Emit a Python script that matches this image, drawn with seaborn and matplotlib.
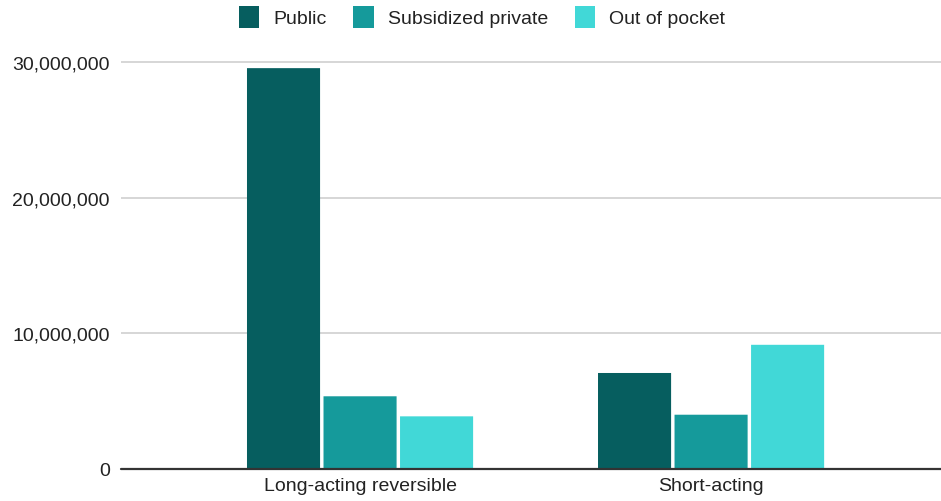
import matplotlib
matplotlib.use("Agg")
import matplotlib.pyplot as plt
import seaborn as sns
import pandas as pd
from matplotlib.patches import FancyBboxPatch, Patch
from matplotlib.ticker import FuncFormatter

categories = ["Long-acting reversible", "Short-acting"]
series = ["Public", "Subsidized private", "Out of pocket"]
public = [29.55e6, 7.05e6]
subsidized = [5.33e6, 3.97e6]
out_of_pocket = [3.85e6, 9.13e6]
colors = ["#065e5f", "#159a9b", "#41d8d7"]

rows = []
for s, vals in zip(series, [public, subsidized, out_of_pocket]):
    for c, v in zip(categories, vals):
        rows.append({"category": c, "series": s, "value": v})
df = pd.DataFrame(rows)

sns.set_theme(style="white")
plt.rcParams["font.family"] = ["Liberation Sans", "DejaVu Sans"]

fig = plt.figure(figsize=(9.41, 5.02), dpi=100)
W, H = 941, 502
ax = fig.add_axes([121 / W, (H - 469.5) / H, (941 - 121) / W, 420 / H])

sns.barplot(data=df, x="category", y="value", hue="series", hue_order=series,
            palette=colors, width=0.654, gap=0.045, ax=ax, legend=False,
            saturation=1)

ax.set_ylim(0, 31e6)
ax.set_xlim(-0.681, 1.655)

# rounded bar tops
px_x = 351.5  # pixels per x unit
px_y = 135.5 / 1e7  # pixels per y unit
r = 3 / px_x
aspect = (1 / px_y) / px_x
for p in list(ax.patches):
    x0, w, h = p.get_x(), p.get_width(), p.get_height()
    fc = p.get_facecolor()
    p.set_visible(False)
    ry = r * aspect
    fb = FancyBboxPatch((x0, -ry), w, h + ry,
                        boxstyle=f"round,pad=0,rounding_size={r}",
                        mutation_aspect=aspect, facecolor=fc, edgecolor="none",
                        zorder=2)
    ax.add_patch(fb)

ax.set_yticks([0, 10e6, 20e6, 30e6])
ax.yaxis.set_major_formatter(FuncFormatter(lambda v, _: f"{int(v):,}"))
for y in [10e6, 20e6, 30e6]:
    ax.axhline(y, color="#d0d0d0", lw=1.2, zorder=0)
ax.axhline(0, color="#333333", lw=1.6, zorder=3, clip_on=False)

for s in ax.spines.values():
    s.set_visible(False)
ax.tick_params(axis="y", length=0, pad=8, labelsize=14, labelcolor="#222222")
ax.tick_params(axis="x", length=0, pad=6, labelsize=14, labelcolor="#222222")
ax.set_xlabel("")
ax.set_ylabel("")

handles = [Patch(facecolor=c, edgecolor="none") for c in colors]
fig.legend(handles, series, loc="center", bbox_to_anchor=(482 / W, 1 - 18 / H),
           ncol=3, frameon=False, fontsize=14, handlelength=1.05,
           handleheight=1.35, handletextpad=0.7, columnspacing=1.4,
           labelcolor="#222222")

fig.savefig("out.png", dpi=100)
